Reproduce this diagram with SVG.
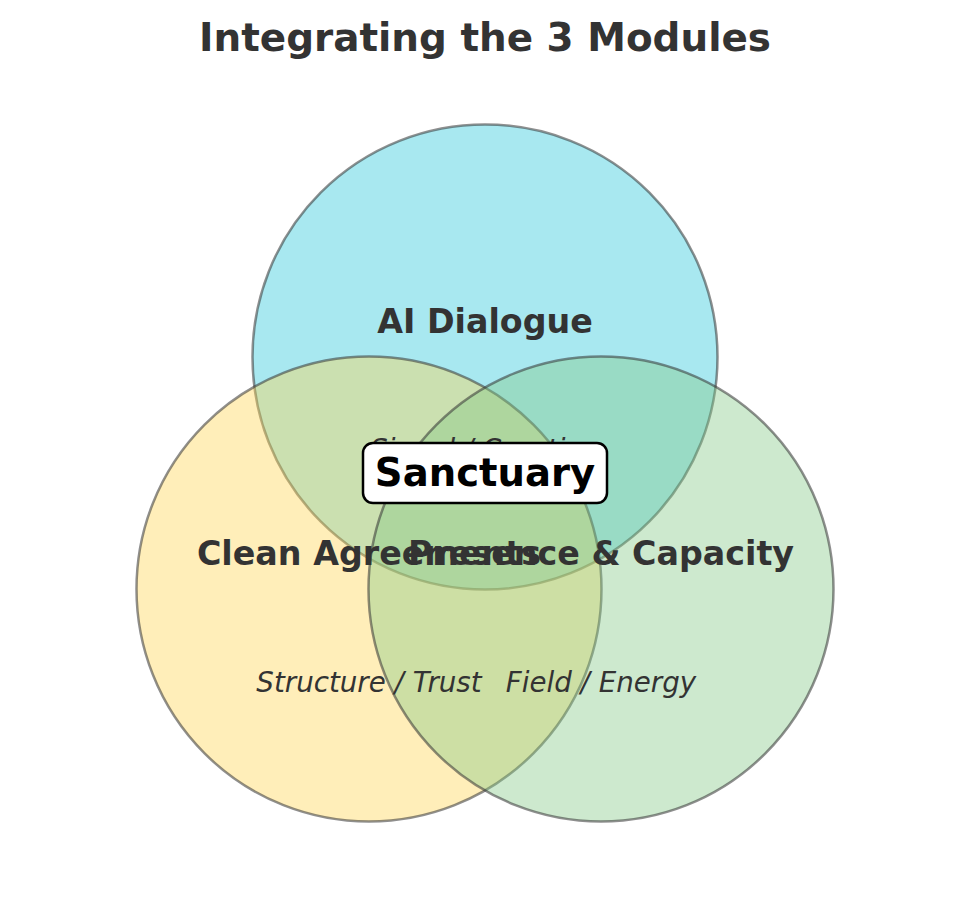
<svg xmlns="http://www.w3.org/2000/svg" width="969" height="900" viewBox="0 0 969 900">
<style>
.c{stroke:#333333;stroke-opacity:0.55;stroke-width:2.5}
.lab{font-family:"DejaVu Sans",sans-serif;font-weight:bold;font-size:33.3px;fill:#333333;text-anchor:middle}
.sub{font-family:"DejaVu Sans",sans-serif;font-style:italic;font-size:27.7px;fill:#333333;text-anchor:middle}
</style>
<rect width="969" height="900" fill="#ffffff"/>
<text x="485" y="51" font-family="DejaVu Sans, sans-serif" font-weight="bold" font-size="38.9" fill="#333333" text-anchor="middle">Integrating the 3 Modules</text>
<g id="ai-dialogue">
<circle cx="485" cy="357" r="232.5" fill="#26C6DA" fill-opacity="0.4" class="c"/>
</g>
<g id="clean-agreements">
<circle cx="369" cy="589" r="232.5" fill="#FFD54F" fill-opacity="0.4" class="c"/>
</g>
<g id="presence-capacity">
<circle cx="601" cy="589" r="232.5" fill="#81C784" fill-opacity="0.4" class="c"/>
</g>
<g id="labels">
<text class="lab" x="485" y="333">AI Dialogue</text>
<text class="sub" x="485" y="459">Signal / Creation</text>
<text class="lab" x="369" y="565">Clean Agreements</text>
<text class="sub" x="369" y="692">Structure / Trust</text>
<text class="lab" x="601" y="565">Presence &amp; Capacity</text>
<text class="sub" x="601" y="692">Field / Energy</text>
</g>
<g id="sanctuary">
<rect x="363" y="443" width="244" height="60" rx="10" fill="#ffffff" stroke="#000000" stroke-width="2.5"/>
<text x="485" y="486" font-family="DejaVu Sans, sans-serif" font-weight="bold" font-size="38.6" fill="#000000" text-anchor="middle">Sanctuary</text>
</g>
</svg>
